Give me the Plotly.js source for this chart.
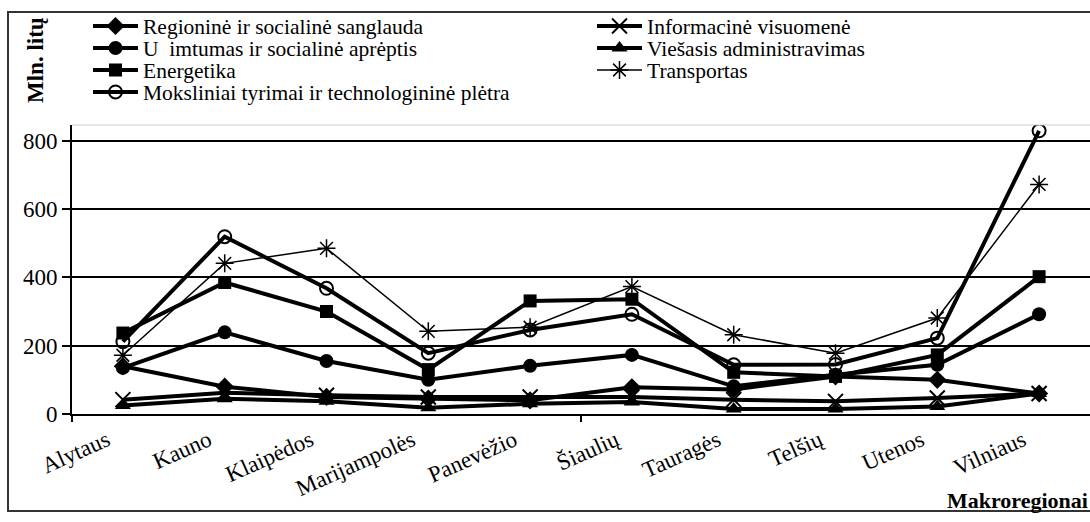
<!DOCTYPE html>
<html>
<head>
<meta charset="utf-8">
<script src="https://cdn.plot.ly/plotly-3.0.1.min.js"></script>
<style>html,body{margin:0;padding:0;overflow:hidden;background:#fff}</style>
</head>
<body>
<div id="chart" style="width:1090px;height:522px"></div>
<script>
const categories = ["Alytaus","Kauno","Klaipėdos","Marijampolės","Panevėžio","Šiaulių","Tauragės","Telšių","Utenos","Vilniaus"];
const regionine   = [140, 80, 50, 45, 40, 78, 72, 110, 100, 60];
const uzimtumas   = [135, 239, 155, 100, 141, 173, 81, 115, 144, 292];
const energetika  = [237, 385, 300, 130, 331, 336, 122, 110, 173, 402];
const mokslinai   = [212, 519, 368, 178, 246, 292, 144, 145, 222, 829];
const informacine = [42, 62, 55, 50, 50, 50, 42, 37, 47, 60];
const viesasis    = [25, 45, 37, 18, 30, 35, 15, 15, 22, 60];
const transportas = [172, 441, 485, 242, 254, 373, 232, 178, 281, 672];
const yTicks = [0, 200, 400, 600, 800];
const seriesNames = [
  "Regioninė ir socialinė sanglauda",
  "Informacinė visuomenė",
  "U  imtumas ir socialinė aprėptis",
  "Viešasis administravimas",
  "Energetika",
  "Transportas",
  "Moksliniai tyrimai ir technologininė plėtra"
];

const serif = "Liberation Serif";
function tr(name, y, sym, size, lw, legend, mlw) {
  return {
    type: "scatter", mode: "lines+markers", name: name, x: categories, y: y,
    legend: legend,
    line: {color: "#000", width: lw},
    marker: {symbol: sym, size: size, color: "#000", line: {color: "#000", width: mlw || 0}}
  };
}
const data = [
  tr(seriesNames[0], regionine, "diamond", 14, 4, "legend"),
  tr(seriesNames[1], informacine, "x-thin-open", 15, 4, "legend2", 2),
  tr(seriesNames[2], uzimtumas, "circle", 14, 4, "legend3"),
  tr(seriesNames[3], viesasis, "triangle-up", 14, 4, "legend4"),
  tr(seriesNames[4], energetika, "square", 13, 4, "legend5"),
  tr(seriesNames[5], transportas, "asterisk-open", 15, 1.5, "legend6", 1.5),
  tr(seriesNames[6], mokslinai, "circle-open", 13, 4, "legend7", 2),
  {type: "scatter", x: [], y: [], xaxis: "x2", showlegend: false, hoverinfo: "skip"}
];

const H = 289;                       // plot height px
const W = 1018;                      // plot width px
const py = p => (414 - p) / H;       // pixel row -> paper y
const px = p => (p - 72) / W;        // pixel col -> paper x
function leg(col, row) {
  return {
    x: col === 0 ? px(88) : px(592), y: py(row), xanchor: "left", yanchor: "middle",
    bgcolor: "rgba(0,0,0,0)", borderwidth: 0, itemwidth: 45,
    font: {family: serif, size: 21.5, color: "#000"}
  };
}

const layout = {
  width: 1090, height: 522,
  margin: {l: 72, r: 0, t: 125, b: 108, autoexpand: false},
  paper_bgcolor: "#fff", plot_bgcolor: "#fff",
  font: {family: serif, color: "#000", size: 18},
  showlegend: true,
  xaxis: {
    type: "category", range: [-0.5, 9.5], showgrid: false,
    showline: true, linecolor: "#000", linewidth: 2,
    ticks: "", tickangle: -24, ticklabelstandoff: 2, ticklabelshift: -16,
    tickfont: {family: serif, size: 23, color: "#000"}, zeroline: false, automargin: false
  },
  xaxis2: {
    overlaying: "x", anchor: "y", side: "bottom", range: [-0.5, 9.5],
    tickmode: "array", tickvals: [-0.5, 4.5], showticklabels: false,
    ticks: "outside", ticklen: 7, tickwidth: 2, tickcolor: "#000",
    showgrid: false, zeroline: false, showline: false
  },
  yaxis: {
    range: [0, 846], tickmode: "array", tickvals: yTicks,
    showgrid: true, gridcolor: "#000", gridwidth: 2,
    zeroline: true, zerolinecolor: "#000", zerolinewidth: 2,
    showline: true, linecolor: "#000", linewidth: 2,
    ticks: "outside", ticklen: 8, tickwidth: 2, tickcolor: "#000",
    tickfont: {family: serif, size: 23, color: "#000"}, automargin: false
  },
  legend: leg(0, 26),
  legend2: leg(1, 26),
  legend3: leg(0, 48),
  legend4: leg(1, 48),
  legend5: leg(0, 70),
  legend6: leg(1, 70),
  legend7: leg(0, 92),
  shapes: [
    {type: "line", xref: "paper", yref: "paper", x0: 0, x1: 1, y0: 1, y1: 1,
     line: {color: "#cccccc", width: 1}},
    {type: "rect", xref: "paper", yref: "paper", x0: px(8), x1: 1.02, y0: py(511), y1: py(12),
     line: {color: "#333", width: 2}, fillcolor: "rgba(0,0,0,0)"}
  ],
  annotations: [
    {text: "<b>Mln. litų</b>", xref: "paper", yref: "paper", x: px(35), y: py(60),
     textangle: -90, showarrow: false, font: {family: serif, size: 23, color: "#000"},
     xanchor: "center", yanchor: "middle"},
    {text: "<b>Makroregionai</b>", xref: "paper", yref: "paper", x: 1.0, y: py(500),
     showarrow: false, font: {family: serif, size: 22, color: "#000"},
     xanchor: "right", yanchor: "middle"}
  ]
};
Plotly.newPlot("chart", data, layout, {displayModeBar: false, staticPlot: true});
</script>
</body>
</html>
